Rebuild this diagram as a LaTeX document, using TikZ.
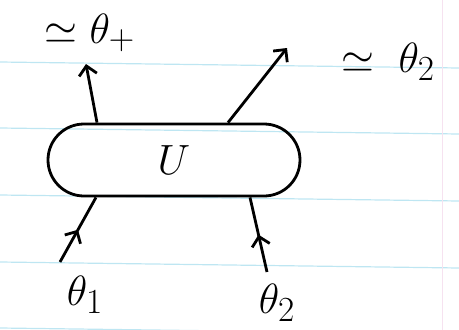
\documentclass[tikz,border=0pt]{standalone}
\usepackage{amsmath,amssymb}
\usepackage{tikz}
\usetikzlibrary{positioning, arrows.meta, decorations.markings}
\definecolor{paperBlue}{RGB}{190,230,242}
\definecolor{paperPink}{RGB}{246,226,240}
\newcommand{\handtext}[1]{\scalebox{1.7}{\Huge #1}}

\begin{document}
\begin{tikzpicture}[x=1pt, y=-1pt, thick,
	gate/.style={draw, rectangle, rounded corners=36pt, line width=2.8pt, minimum width=252pt, minimum height=72pt, inner sep=0pt},
	lbl/.style={inner sep=0pt},
	wire/.style={line width=2.8pt, -{Straight Barb[length=9pt, width=18pt, line width=2.8pt]}},
	midwire/.style={line width=2.8pt, postaction={decorate}, decoration={markings, mark=at position 0.5 with {\arrow{Straight Barb[length=9pt, width=18pt, line width=2.8pt]}}}}]
	\useasboundingbox (0,0) rectangle (459,330);
	% ruled paper
	\foreach \y in {62,128,195,262,328}
		\draw[paperBlue, line width=1.2pt] (0,\y) -- (459,\y+6);
	\draw[paperPink, line width=1pt] (442,0) -- (442,330);
	% the gate
	\node[gate] (U) at (174,160) {\handtext{$U$}};
	% labels
	\node[lbl] (out1) at (90,33) {\handtext{$\simeq\theta_{+}$}};
	\node[lbl] (out2) at (388,62) {\handtext{$\simeq\ \theta_2$}};
	\node[lbl] (in1) at (85,295) {\handtext{$\theta_1$}};
	\node[lbl] (in2) at (277,303) {\handtext{$\theta_2$}};
	\coordinate (tip1) at (86,64);
	\coordinate (tip2) at (287,48);
	\coordinate (foot1) at (60,262);
	\coordinate (foot2) at (267,272);
	% wires
	\draw[midwire] (foot1) -- ([xshift=-78pt]U.south);
	\draw[midwire] (foot2) -- ([xshift=76pt]U.south);
	\draw[wire] ([xshift=-77pt]U.north) -- (tip1);
	\draw[wire] ([xshift=54pt]U.north) -- (tip2);
\end{tikzpicture}
\end{document}
